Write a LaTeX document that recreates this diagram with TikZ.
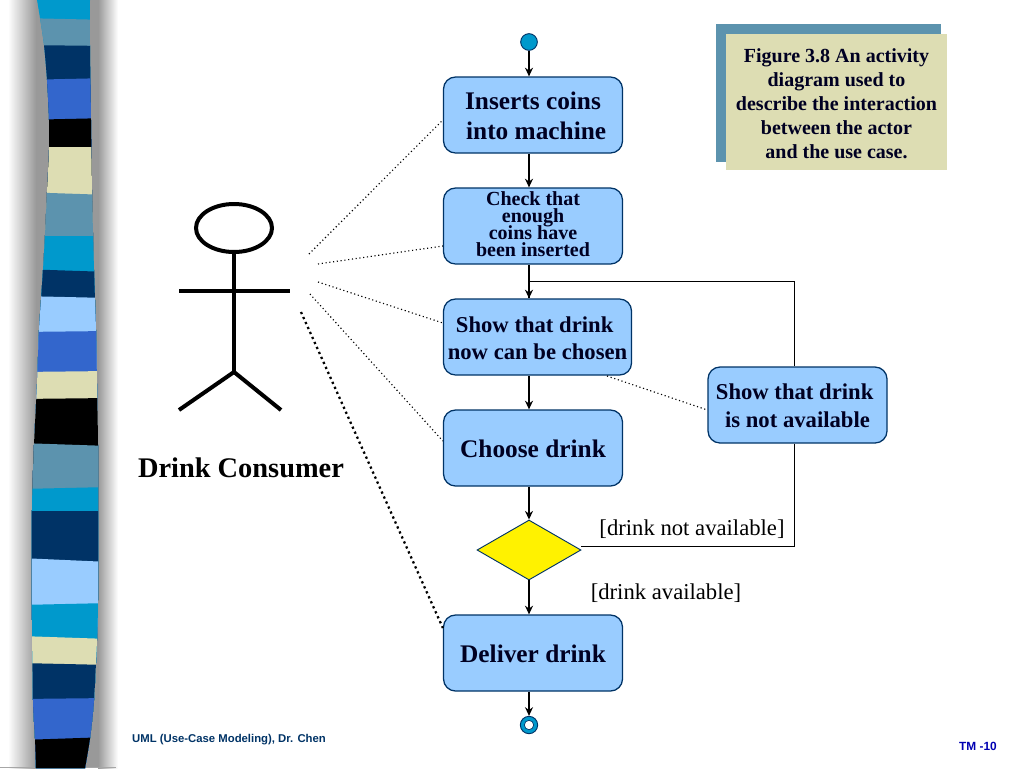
\documentclass[tikz,border=0pt]{standalone}
\usepackage{fontspec}
\setmainfont{Liberation Serif}
\setsansfont{Liberation Sans}
\usepackage{xcolor}
\usetikzlibrary{positioning, shapes.geometric, arrows.meta}
\definecolor{steelband}{HTML}{5C93AE}
\definecolor{cyanband}{HTML}{0099CC}
\definecolor{navyband}{HTML}{003366}
\definecolor{royalband}{HTML}{3366CC}
\definecolor{lightband}{HTML}{99CCFF}
\definecolor{creamband}{HTML}{DDDDB3}
\definecolor{inktext}{HTML}{000022}
\newcommand{\tightlines}{\setlength{\lineskiplimit}{-10pt}}
\newcommand{\textdrop}[1]{\rule{0pt}{#1}}
\tikzset{
  actbox/.style={draw=navyband, fill=lightband, rounded corners=9pt, minimum width=134.25pt, minimum height=57pt, inner sep=0pt, align=center, text=inktext, font=\fontsize{19}{23}\selectfont\bfseries},
  actor/.style={-, line width=3pt},
  link/.style={-, dotted, line width=0.85pt},
  labeltext/.style={font=\fontsize{17}{20}\selectfont}
}

\begin{document}
\begin{tikzpicture}[x=0.75pt,y=-0.75pt,->,>={Stealth[length=6.5pt,width=6pt]},line width=0.95pt,node distance=83.25pt]
      \useasboundingbox (0,0) rectangle (1024,768);
      % side strip
      \shade[left color=white, right color=black!40, draw=none] (8,0) rectangle (36,768);
      \fill[black!40] (36,0) rectangle (100,768);
      \shade[left color=black!40, right color=white, draw=none] (98,0) rectangle (118,768);
      \fill[black!35] (0,766.5) rectangle (116,768);
      \begin{scope}
        \clip plot[smooth] coordinates {(37,0) (40,18) (44,45) (47,80) (49,120) (49,150) (47,192) (45,235) (43,270) (41,300) (39,330) (37,384) (34,445) (32,510) (32,620) (33,700) (35,738) (36,768)}
          -- plot[smooth] coordinates {(85,768) (90,738) (94,700) (97,640) (98,600) (98,510) (98,445) (97,384) (96,330) (94,270) (92,190) (91,120) (90,45) (90,0)} -- cycle;
        \foreach \yl/\yr/\col in {0/0/cyanband, 18/20/steelband, 45/46/navyband, 80/78/royalband, 120/118/black, 147/147/creamband, 192/195/steelband, 236/236/cyanband, 269/272/navyband, 296/298/lightband, 332/331/royalband, 372/371/creamband, 399/398/black, 443/446/steelband, 489/487/cyanband, 511/511/navyband, 558/562/lightband, 605/603/cyanband, 636/639/creamband, 663/665/navyband, 699/698/royalband, 740/737/black}
          \fill[\col] (20,\yl) -- (110,\yr) -- (110,768) -- (20,768) -- cycle;
      \end{scope}

      \node[circle, draw=navyband, line width=0.7pt, fill=cyanband, minimum size=12.5pt, inner sep=0pt] (startdot) at (529,42) {};
      \node[actbox] (coins) at (533,115) {\textdrop{14.3pt}Inserts coins\\\ into machine};
      \node[actbox, font=\fontsize{15}{12.75}\selectfont\bfseries\tightlines] (check) [below of=coins] {Check that\\enough\\coins have\\been inserted\rule[-3pt]{0pt}{3pt}};
      \node[actbox, minimum width=141pt, font=\fontsize{17}{20.5}\selectfont\bfseries] (show) [below of=check, xshift=3.4pt] {\textdrop{13.75pt}Show that drink\kern4.3pt\\now can be chosen};
      \node[actbox] (choose) [below of=show, xshift=-3.4pt] {\textdrop{14.3pt}Choose drink};
      \node[diamond, draw=navyband, line width=0.7pt, fill=yellow, minimum width=78pt, minimum height=45pt, inner sep=0pt] (decide) at (529,550) {};
      \node[actbox] (deliver) at (533,653) {\textdrop{14.3pt}Deliver drink};
      \node[circle, draw=navyband, line width=0.7pt, fill=cyanband, minimum size=13pt, inner sep=0pt] (enddot) at (529,725) {};
      \node[circle, draw=navyband, line width=0.5pt, fill=white, minimum size=7pt, inner sep=0pt] (endhole) at (enddot.center) {};
      \node[actbox, font=\fontsize{17}{20.5}\selectfont\bfseries] (notavail) at (797.5,405) {\textdrop{13pt}Show that drink\kern4.3pt\\is not available};

      % caption box
      \fill[steelband] (716,24) rectangle (941,162);
      \fill[creamband] (726,34) rectangle (947,170);
      \node[align=center, inner sep=0pt, text=inktext, font=\fontsize{15}{18}\selectfont\bfseries] (caption) at (836.5,104) {Figure 3.8 An activity\\diagram used to\\describe the interaction\\between the actor\\and the use case.};

      % stick figure
      \node[ellipse, draw, line width=3pt, minimum width=57pt, minimum height=36pt, inner sep=0pt] (head) at (234,228) {};
      \coordinate (hip) at (234,372);
      \coordinate (armleft) at (179,291);
      \coordinate (armright) at (290,291);
      \coordinate (footleft) at (179,410);
      \coordinate (footright) at (281,410);
      \draw[actor] (head) -- (hip);
      \draw[actor] (armleft) -- (armright);
      \draw[actor] (footleft) -- (hip) -- (footright);
      \node[font=\fontsize{21.3}{24}\selectfont\bfseries] (consumer) at (241,468) {Drink Consumer};

      \path (startdot) edge (startdot |- coins.north)
            (startdot |- coins.south) edge (startdot |- check.north)
            (startdot |- show.south) edge (startdot |- choose.north)
            (startdot |- choose.south) edge (decide.north)
            (decide.south) edge (startdot |- deliver.north)
            (startdot |- deliver.south) edge (enddot.north)
            ;

      % back to the show box
      \coordinate (turntop) at (794,281);
      \coordinate (turnlow) at (794,546);
      \draw[-] (startdot |- check.south) -- (startdot |- show.north);
      \draw[-, line width=0.7pt] (turntop |- notavail.north) -- (turntop) -- (startdot |- turntop);
      \draw[->] (startdot |- turntop) -- (startdot |- show.north);
      \draw[-, line width=0.7pt] (turnlow |- notavail.south) -- (turnlow) -- (decide.east |- turnlow);

      % dotted links
      \coordinate (linka) at (309,254);
      \coordinate (linkb) at (318,264);
      \coordinate (linkc) at (318,282);
      \coordinate (linkd) at (310,294);
      \coordinate (linke) at (301,312);
      \coordinate (showfoot) at (607,376);
      \draw[link] (linka) -- (coins.west |- 0,120);
      \draw[link] (linkb) -- (check.west |- 0,246);
      \draw[link] (linkc) -- (show.west |- 0,323);
      \draw[link] (linkd) -- (choose.west |- 0,441);
      \draw[-, line width=1.7pt, dash pattern=on 1.7pt off 2.4pt] (linke) -- (deliver.west |- 0,628);
      \draw[link] (showfoot) -- (notavail.west |- 0,410);

      \node[labeltext] (notlabel) at (692,529) {[drink not available]};
      \node[labeltext] (yeslabel) at (666,593) {[drink available]};
      \node[font=\sffamily\bfseries\fontsize{8.5}{10}\selectfont, text=navyband] (footer) at (229,740) {UML (Use-Case Modeling), Dr. Chen};
      \node[font=\sffamily\bfseries\fontsize{8.9}{10}\selectfont, text=blue!70!black] (pagenum) at (978,746) {TM -10};
    \end{tikzpicture}
\end{document}
